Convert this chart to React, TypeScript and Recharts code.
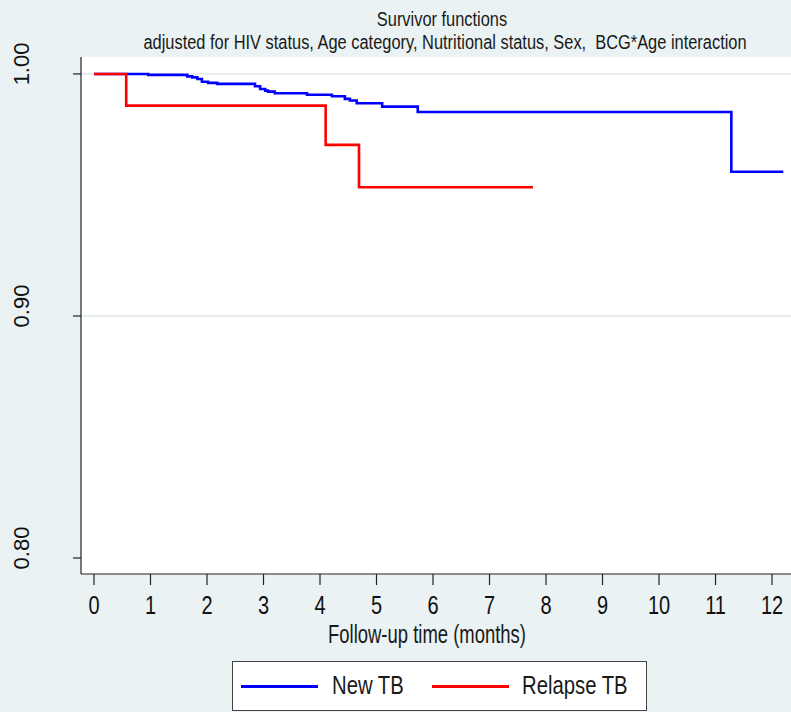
import React from 'react';
import { LineChart, Line, XAxis, YAxis, CartesianGrid, ReferenceLine } from 'recharts';

// Survival estimates (time in months, survivor function)
const newTbTime = [0, 0.96, 1.65, 1.74, 1.83, 1.91, 2.02, 2.18, 2.85, 2.94, 3.03, 3.08, 3.2, 3.77, 4.21, 4.44, 4.53, 4.65, 5.1, 5.73, 11.28, 12.2];
const newTbSurv = [1.0, 0.9996, 0.999, 0.9986, 0.9979, 0.9968, 0.9963, 0.9959, 0.9949, 0.9938, 0.9931, 0.9927, 0.992, 0.9914, 0.9908, 0.9897, 0.989, 0.9879, 0.9865, 0.9843, 0.9596, 0.9596];
const relapseTime = [0, 0.57, 4.1, 4.69, 7.77];
const relapseSurv = [1.0, 0.9869, 0.9707, 0.9532, 0.9532];

const xTicks = [0, 1, 2, 3, 4, 5, 6, 7, 8, 9, 10, 11, 12];
const yTicks = [0.8, 0.9, 1.0];
const gridValues = [0.9, 1.0];

const titleText = 'Survivor functions';
const subtitleText = 'adjusted for HIV status, Age category, Nutritional status, Sex,  BCG*Age interaction';
const xLabel = 'Follow-up time (months)';
const seriesNames = ['New TB', 'Relapse TB'];
const seriesColors = ['#0000ff', '#ff0000'];

const newTbData = newTbTime.map((t, i) => ({ t, s: newTbSurv[i] }));
const relapseData = relapseTime.map((t, i) => ({ t, s: relapseSurv[i] }));

const REGULAR = '"Liberation Sans", Arial, Helvetica, sans-serif';
const BG = '#eaf2f3';

const YTick = (props: any) => {
  const { y, payload } = props;
  const cy = y - 10;
  return (
    <text
      x={22}
      y={cy}
      transform={`rotate(-90 22 ${cy})`}
      textAnchor="middle"
      dominantBaseline="central"
      fontSize={22}
      fontFamily={REGULAR}
      fill="#111"
    >
      {Number(payload.value).toFixed(2)}
    </text>
  );
};

const XTick = (props: any) => {
  const { x, payload } = props;
  return (
    <text
      transform={`translate(${x} 614) scale(0.8 1)`}
      textAnchor="middle"
      fontSize={25}
      fontFamily={REGULAR}
      fill="#111"
    >
      {payload.value}
    </text>
  );
};

const Narrow = ({ children, size, left, top, center, squeeze = 0.82, lh = 1.15 }: any) => (
  <div
    style={{
      position: 'absolute',
      left,
      top,
      transformOrigin: center ? 'center top' : 'left top',
      transform: center ? `translateX(-50%) scaleX(${squeeze})` : `scaleX(${squeeze})`,
      whiteSpace: 'pre',
      fontFamily: REGULAR,
      fontSize: size,
      lineHeight: `${Math.round(size * lh)}px`,
      color: '#1a1a1a',
    }}
  >
    {children}
  </div>
);

export default function App() {
  return (
    <div style={{ position: 'absolute', left: 0, top: 0, width: 791, height: 712, background: BG, overflow: 'hidden' }}>
      <Narrow size={20} left={442} top={8} center>{titleText}</Narrow>
      <Narrow size={20} left={445} top={31} center>{subtitleText}</Narrow>
      <LineChart width={791} height={712} margin={{ top: 57, right: 0, left: 0, bottom: 98 }}>
        <CartesianGrid horizontal={false} vertical={false} fill="#ffffff" />
        {gridValues.map((v) => (
          <ReferenceLine key={v} y={v} stroke="#e6eef0" strokeWidth={2} />
        ))}
        <XAxis
          type="number"
          dataKey="t"
          domain={[-0.23, 12.336]}
          allowDataOverflow
          ticks={xTicks}
          interval={0}
          height={40}
          tickSize={11}
          axisLine={{ stroke: '#222', strokeWidth: 1.2 }}
          tickLine={{ stroke: '#222', strokeWidth: 1.2 }}
          tick={<XTick />}
        />
        <YAxis
          type="number"
          dataKey="s"
          domain={[0.7934, 1.007]}
          allowDataOverflow
          ticks={yTicks}
          interval={0}
          width={81}
          tickSize={8}
          axisLine={{ stroke: '#222', strokeWidth: 1.2 }}
          tickLine={{ stroke: '#222', strokeWidth: 1.2 }}
          tick={<YTick />}
        />
        <Line data={newTbData} dataKey="s" type="stepAfter" stroke={seriesColors[0]} strokeWidth={2.6} dot={false} isAnimationActive={false} name={seriesNames[0]} />
        <Line data={relapseData} dataKey="s" type="stepAfter" stroke={seriesColors[1]} strokeWidth={2.6} dot={false} isAnimationActive={false} name={seriesNames[1]} />
      </LineChart>
      <Narrow size={26} left={427} top={621} center squeeze={0.71} lh={1.0}>{xLabel}</Narrow>
      <div style={{ position: 'absolute', left: 232, top: 661, width: 413, height: 48, background: '#fff', border: '1px solid #444' }}>
        <div style={{ position: 'absolute', left: 8, top: 23, width: 77, height: 2.6, background: seriesColors[0] }} />
        <Narrow size={26} left={99} top={8} squeeze={0.78}>{seriesNames[0]}</Narrow>
        <div style={{ position: 'absolute', left: 199, top: 23, width: 77, height: 2.6, background: seriesColors[1] }} />
        <Narrow size={26} left={289} top={8} squeeze={0.78}>{seriesNames[1]}</Narrow>
      </div>
    </div>
  );
}
